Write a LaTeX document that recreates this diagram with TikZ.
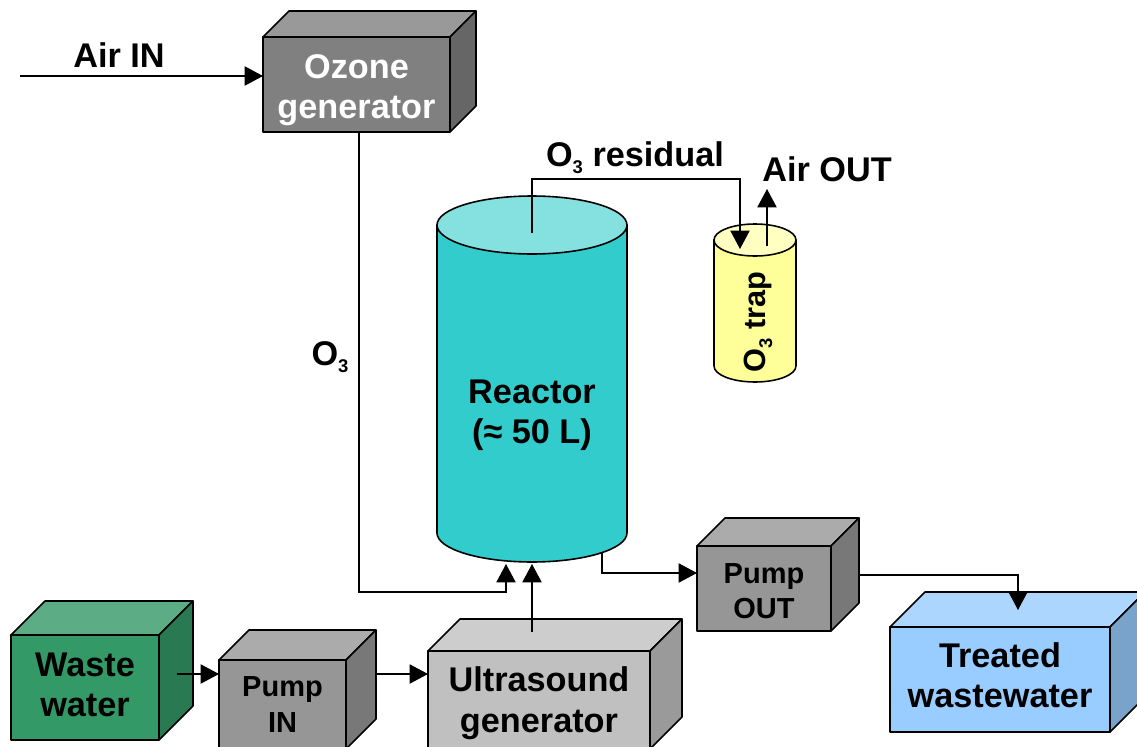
\documentclass[tikz,border=0pt]{standalone}
\usepackage{fontspec}
\setmainfont{Liberation Sans}
\usetikzlibrary{calc,arrows.meta}

\definecolor{ozonecol}{HTML}{808080}
\definecolor{wastecol}{HTML}{339966}
\definecolor{pumpcol}{HTML}{969696}
\definecolor{sonocol}{HTML}{C0C0C0}
\definecolor{treatedcol}{HTML}{99CCFF}
\definecolor{reactorcol}{HTML}{33CCCC}
\definecolor{trapcol}{HTML}{FFFF99}

\newcommand{\subthree}{\raisebox{-4pt}{\fontsize{10.5}{10.5}\selectfont 3}}

% name, colour, left, top, width, height, depth, node options, text
\newcommand{\cuboid}[9]{
  \node [boxline, fill=#2, anchor=north west, minimum width=#5*0.02cm, minimum height=#6*0.02cm, #8] (#1) at (#3,#4) {#9};
  \draw [boxline, fill=#2!80!white] (#1.north west) -- ($(#1.north west)+(#7,-#7)$) -- ($(#1.north east)+(#7,-#7)$) -- (#1.north east) -- cycle;
  \draw [boxline, fill=#2!80!black] (#1.north east) -- ($(#1.north east)+(#7,-#7)$) -- ($(#1.south east)+(#7,-#7)$) -- (#1.south east) -- cycle;
}

\begin{document}
\begin{tikzpicture}[x=0.02cm,y=-0.02cm,
    bigtext/.style={font=\fontsize{19.5}{23}\selectfont\bfseries, align=center},
    smalltext/.style={font=\fontsize{16.5}{20.3}\selectfont\bfseries, align=center},
    traptext/.style={font=\fontsize{17.5}{21}\selectfont\bfseries, align=center},
    boxline/.style={draw=black, line width=0.9pt, line join=round, inner sep=0pt, outer sep=0pt},
    pipe/.style={draw=black, line width=0.7pt},
    flow/.style={pipe, -{Triangle[length=10.5pt,width=11pt]}}]

  \useasboundingbox (0,0) rectangle (1137,747);
  \clip (0,0) rectangle (1137,747);

  %%% Boxes
  \cuboid{ozone}{ozonecol}{263}{37}{187}{95}{26}{bigtext, text=white, text height=43pt}{Ozone\\generator}
  \cuboid{waste}{wastecol}{11}{635}{148}{105}{34}{bigtext, text height=33.5pt}{Waste\\water}
  \cuboid{pumpin}{pumpcol}{219}{660}{127}{89}{30}{smalltext}{Pump\\IN}
  \cuboid{sono}{sonocol}{428}{651}{222}{98}{32}{bigtext, text height=41pt}{Ultrasound\\generator}
  \cuboid{pumpout}{pumpcol}{697}{546}{134}{85}{28}{smalltext, text height=34.5pt}{Pump\\OUT}
  \cuboid{treated}{treatedcol}{890}{627}{220}{105}{35}{bigtext, text height=32pt}{Treated\\wastewater}

  %%% Reactor and trap
  \draw [boxline, fill=reactorcol] (437,225) -- (437,533) arc [start angle=180, end angle=360, x radius=1.9cm, y radius=0.58cm] -- (627,225) -- cycle;
  \draw [boxline, fill=reactorcol!60!white] (532,225) ellipse [x radius=1.9cm, y radius=0.58cm];
  \node [bigtext] (reactor) at (532,415) {Reactor\\(≈ 50 L)};

  \draw [boxline, fill=trapcol] (714,240) -- (714,366) arc [start angle=180, end angle=360, x radius=0.82cm, y radius=0.32cm] -- (796,240) -- cycle;
  \draw [boxline, fill=trapcol!60!white] (755,240) ellipse [x radius=0.82cm, y radius=0.32cm];
  \node [traptext, rotate=90] (trap) at (758,322) {O\subthree{} trap};

  %%% Labels
  \node [bigtext] (airinlabel) at (119,55) {Air IN};
  \node [bigtext] (airoutlabel) at (827,169) {Air OUT};
  \node [bigtext] (residuallabel) at (635,158) {O\subthree{} residual};
  \node [bigtext] (o3label) at (330,357) {O\subthree};

  %%% Connectors
  \coordinate (airstart) at (20,76);
  \coordinate (o3corner) at (359,592);
  \coordinate (o3end) at (506,564);
  \coordinate (sonostart) at (532,632);
  \coordinate (sonoend) at (532,564);
  \coordinate (resstart) at (532,233);
  \coordinate (rescorner) at (740,179);
  \coordinate (resend) at (740,249);
  \coordinate (trapstart) at (767,246);
  \coordinate (trapend) at (767,189);
  \coordinate (outstart) at (602,553);
  \coordinate (outcorner) at (602,573);
  \coordinate (treatstart) at (859,575);
  \coordinate (treatend) at (1018,610);
  \coordinate (wastestart) at (177,674);
  \coordinate (pumpstart) at (376,674);

  \draw [flow] (airstart) -- (airstart -| ozone.west);
  \draw [flow] (ozone.south -| o3corner) -- (o3corner) -| (o3end);
  \draw [flow] (sonostart) -- (sonoend);
  \draw [flow] (resstart) |- (rescorner) -- (resend);
  \draw [flow] (trapstart) -- (trapend);
  \draw [flow] (outstart) -- (outcorner) -- (outcorner -| pumpout.west);
  \draw [flow] (treatstart) -| (treatend);
  \draw [flow] (wastestart) -- (wastestart -| pumpin.west);
  \draw [flow] (pumpstart) -- (pumpstart -| sono.west);

\end{tikzpicture}
\end{document}
